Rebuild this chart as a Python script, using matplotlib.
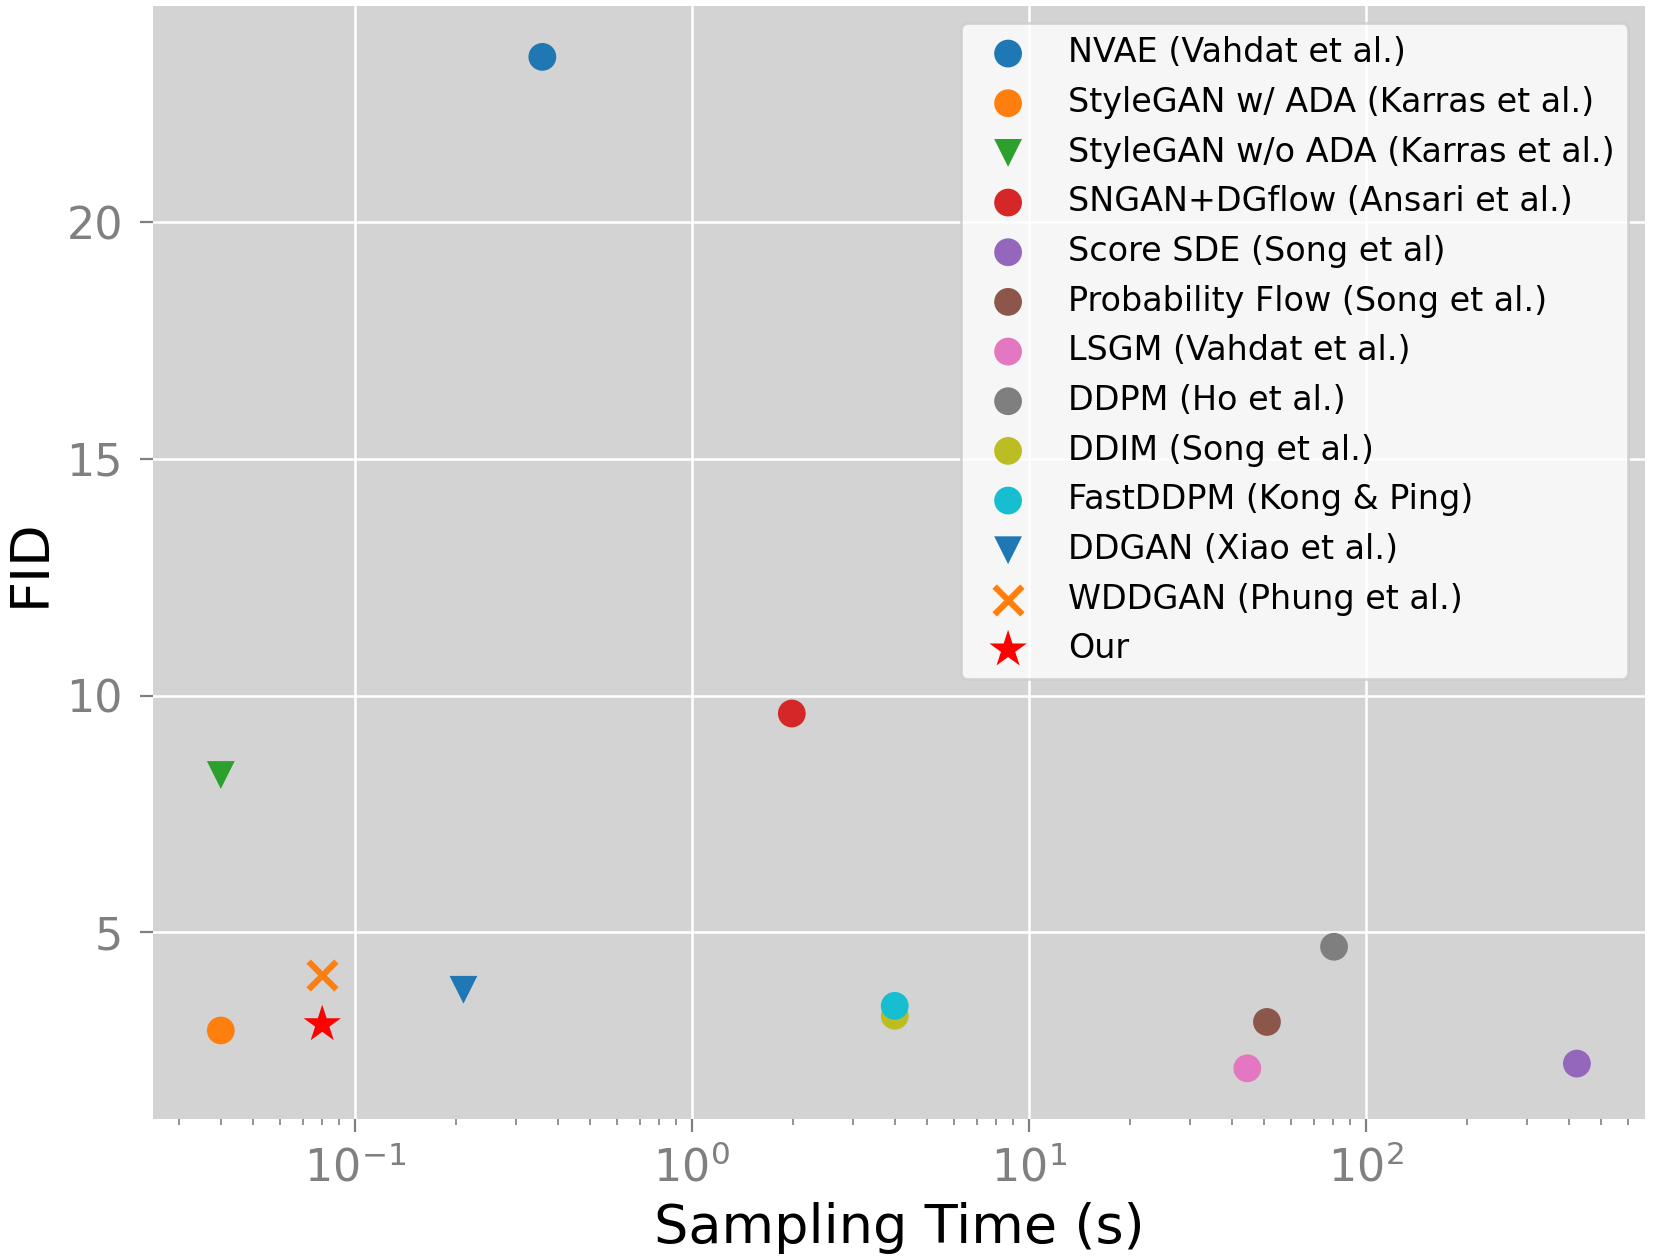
import numpy as np
import matplotlib
matplotlib.use("Agg")
import matplotlib.pyplot as plt

# values
methods = ["NVAE (Vahdat et al.)", "StyleGAN w/ ADA (Karras et al.)",
           "StyleGAN w/o ADA (Karras et al.)", "SNGAN+DGflow (Ansari et al.)",
           "Score SDE (Song et al)", "Probability Flow (Song et al.)",
           "LSGM (Vahdat et al.)", "DDPM (Ho et al.)", "DDIM (Song et al.)",
           "FastDDPM (Kong & Ping)", "DDGAN (Xiao et al.)",
           "WDDGAN (Phung et al.)", "Our"]
times = [0.36, 0.04, 0.04, 1.98, 423.2, 50.9, 44.5, 80.5, 4.0, 4.0, 0.21, 0.08, 0.08]
fids = [23.5, 2.92, 8.32, 9.62, 2.22, 3.10, 2.12, 4.69, 3.23, 3.44, 3.78, 4.1, 3.05]
markers = ["o", "o", "v", "o", "o", "o", "o", "o", "o", "o", "v", "x", "*"]
colors = ["C0", "C1", "C2", "C3", "C4", "C5", "C6", "C7", "C8", "C9", "C0", "C1", "red"]
sizes = [100] * 12 + [200]

fig = plt.figure(figsize=(8.315, 6.3), dpi=200)
ax = fig.add_axes([0.092, 0.112, 0.897, 0.883])
ax.set_facecolor("lightgray")

for t, f, m, c, s, lab in zip(times, fids, markers, colors, sizes, methods):
    if m == "x":
        ax.scatter(t, f, marker=m, color=c, s=s, linewidths=2.2, label=lab, zorder=3)
    else:
        ax.scatter(t, f, marker=m, color=c, s=s, edgecolors="none", label=lab, zorder=3)

ax.set_xscale("log")
ax.grid(True, which="major", color="white", linewidth=0.9)
ax.set_axisbelow(True)
for sp in ax.spines.values():
    sp.set_visible(False)

ax.set_yticks([5, 10, 15, 20])
ax.tick_params(axis="both", which="major", labelsize=16, colors="gray",
               length=4.8, width=0.8, pad=5)
ax.tick_params(axis="x", which="minor", colors="gray", length=2.3, width=0.6)
ax.tick_params(axis="y", which="major", pad=6)

ax.set_xlabel("Sampling Time (s)", fontsize=19.5)
ax.set_ylabel("FID", fontsize=19.5)

ax.legend(loc="upper right", fontsize=12, scatterpoints=1)

fig.savefig("out.png", dpi=200)
